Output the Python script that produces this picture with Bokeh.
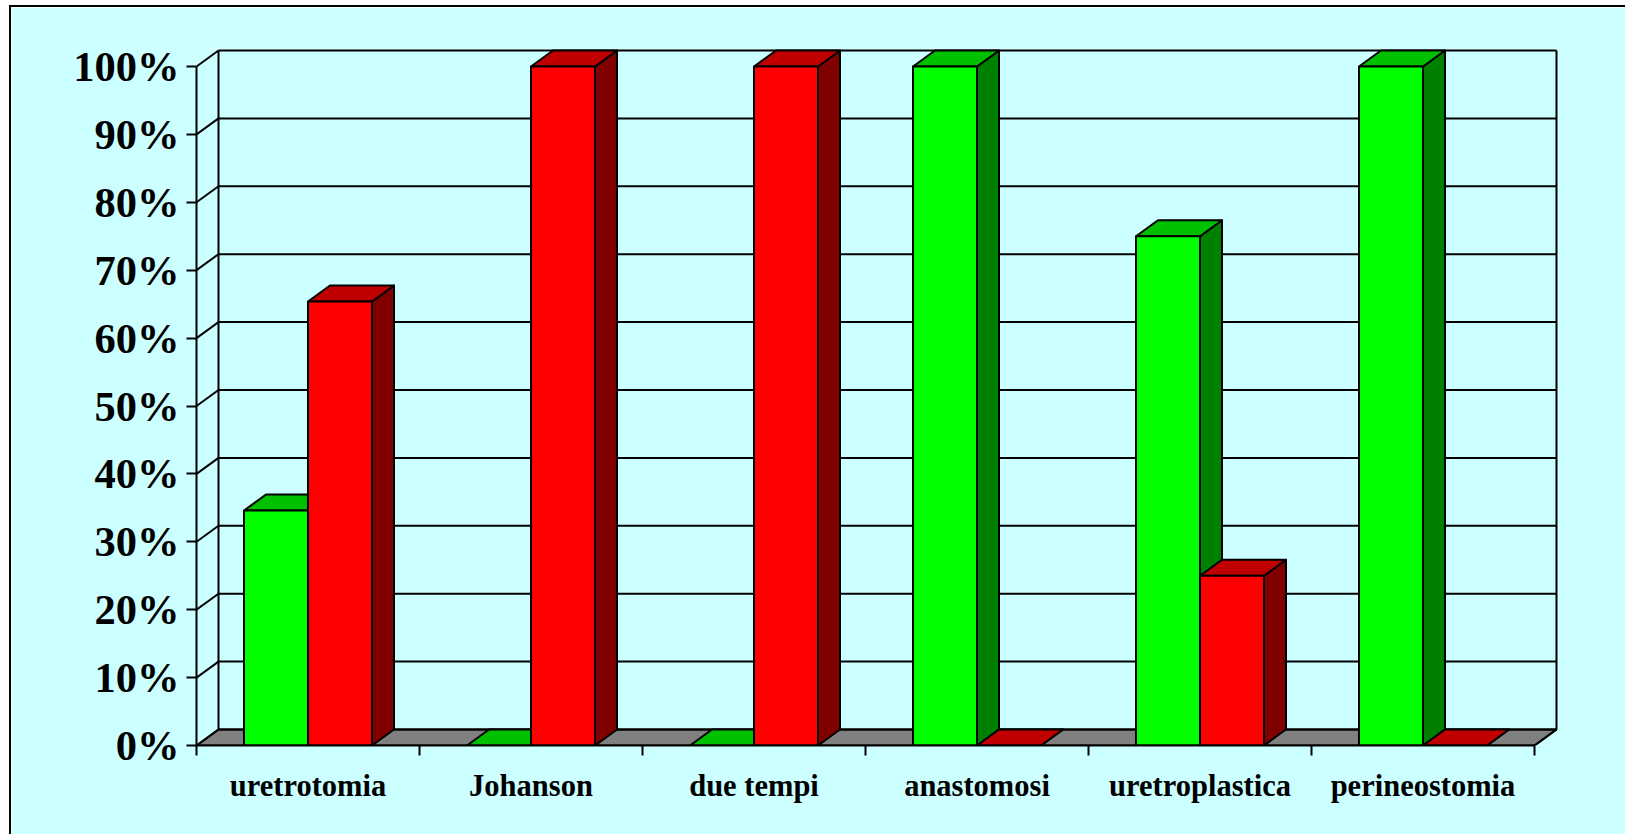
from bokeh.embed import file_html
from bokeh.models import FixedTicker, LinearAxis, PrintfTickFormatter, Range1d
from bokeh.plotting import figure
from bokeh.resources import INLINE

categories = ["uretrotomia", "Johanson", "due tempi", "anastomosi", "uretroplastica", "perineostomia"]
green_values = [34.6, 0, 0, 100, 75, 100]
red_values = [65.4, 100, 100, 0, 25, 0]
y_ticks = list(range(0, 101, 10))

GREEN = ("#00FF00", "#00C000", "#008000")
RED = ("#FF0000", "#C00000", "#800000")
LW = 2

# Pseudo-3D geometry in data units: one category is 223 px, one percent 6.79 px.
DX = 22 / 223
DY = 16 / 6.79
BAR = 64 / 223
PAD_X = 2 / 223
PAD_Y = 2 / 6.79
n = len(categories)

p = figure(
    width=1616, height=829, frame_width=1360 + 2, frame_height=695 + 2,
    min_border_left=185, min_border_right=67, min_border_top=41, min_border_bottom=89,
    x_range=Range1d(0, n + DX + PAD_X), y_range=Range1d(0, 100 + DY + PAD_Y),
    output_backend="svg", toolbar_location=None, x_axis_location=None, y_axis_location=None,
    border_fill_color="#CCFFFF", background_fill_color="#CCFFFF", outline_line_color=None,
    margin=(5, 0, 0, 9),
    styles={"border-top": "2px solid black", "border-left": "2px solid black", "box-sizing": "border-box"},
)
p.grid.visible = False

# Floor
p.patch([0, DX, n + DX, n], [0, DY, DY, 0], fill_color="#808080", line_color="black", line_width=LW)

# Back wall, side wall and their gridlines
p.segment(x0=[DX] * len(y_ticks), y0=[v + DY for v in y_ticks],
          x1=[n + DX] * len(y_ticks), y1=[v + DY for v in y_ticks], line_color="black", line_width=LW)
p.segment(x0=[0] * len(y_ticks), y0=y_ticks,
          x1=[DX] * len(y_ticks), y1=[v + DY for v in y_ticks], line_color="black", line_width=LW)
p.segment(x0=[DX, n + DX, n], y0=[DY, DY, 0], x1=[DX, n + DX, n + DX], y1=[100 + DY, 100 + DY, DY],
          line_color="black", line_width=LW)


def bar(left, height, colors):
    right = left + BAR
    p.patch([right, right + DX, right + DX, right], [0, DY, height + DY, height],
            fill_color=colors[2], line_color="black", line_width=LW, line_join="round")
    p.patch([left, left + DX, right + DX, right], [height, height + DY, height + DY, height],
            fill_color=colors[1], line_color="black", line_width=LW, line_join="round")
    if height > 0:
        p.quad(left=[left], right=[right], bottom=[0], top=[height],
               fill_color=colors[0], line_color="black", line_width=LW)


for i in range(n):
    centre = i + 0.5
    bar(centre - BAR, green_values[i], GREEN)
    bar(centre, red_values[i], RED)

y_axis = LinearAxis(
    ticker=FixedTicker(ticks=y_ticks), formatter=PrintfTickFormatter(format="%d%%"), bounds=(0, 100),
    major_tick_out=10, major_tick_in=0, minor_tick_out=0, minor_tick_in=0,
    major_tick_line_width=LW, axis_line_width=LW, major_tick_line_color="black", axis_line_color="black",
    major_label_text_font="Liberation Serif", major_label_text_font_style="bold",
    major_label_text_font_size="42.5px", major_label_text_color="black", major_label_standoff=7,
)
p.add_layout(y_axis, "left")

x_axis = LinearAxis(
    ticker=FixedTicker(ticks=[i + 0.5 for i in range(n)], minor_ticks=list(range(n + 1))),
    major_label_overrides={i + 0.5: c for i, c in enumerate(categories)}, bounds=(0, n),
    major_tick_out=0, major_tick_in=0, minor_tick_out=10, minor_tick_in=0,
    minor_tick_line_width=LW, axis_line_width=LW, minor_tick_line_color="black", axis_line_color="black",
    major_label_text_font="Liberation Serif", major_label_text_font_style="bold",
    major_label_text_font_size="30.5px", major_label_text_color="black", major_label_standoff=13,
)
p.add_layout(x_axis, "below")

open("out.html", "w").write(file_html(p, INLINE))
